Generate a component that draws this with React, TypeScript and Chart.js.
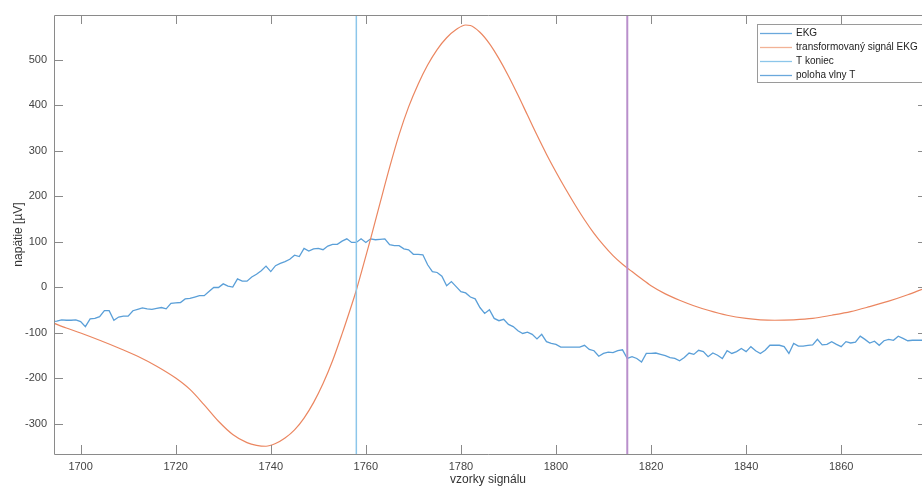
import React, { useEffect, useRef } from "react";
import { Chart, registerables } from "chart.js";

Chart.register(...registerables);

// ---------- data ----------
const EKG_START = 1694;
const EKG_VALUES = [
  -76, -75, -72, -73, -73, -72, -76, -87, -70, -69,
  -65, -52, -52, -73, -66, -64, -64, -52, -49, -46,
  -48, -49, -47, -45, -48, -36, -35, -34, -26, -25,
  -22, -19, -19, -10, -1, -1, 7, 2, 0, 18,
  13, 13, 22, 28, 36, 46, 34, 47, 52, 56,
  61, 70, 67, 85, 79, 84, 85, 82, 90, 94,
  94, 101, 106, 98, 98, 106, 98, 106, 104, 105,
  106, 93, 91, 91, 84, 82, 72, 72, 71, 49,
  34, 32, 24, 3, 12, 1, -10, -13, -22, -26,
  -45, -58, -50, -69, -74, -71, -82, -87, -96, -102,
  -99, -104, -114, -104, -120, -124, -126, -132, -132, -132,
  -132, -132, -128, -137, -140, -152, -146, -143, -144, -140,
  -138, -157, -153, -157, -165, -146, -146, -145, -148, -151,
  -155, -157, -162, -155, -145, -148, -139, -142, -153, -145,
  -150, -157, -140, -146, -142, -135, -142, -131, -140, -146,
  -139, -128, -128, -128, -131, -146, -124, -130, -130, -128,
  -127, -115, -127, -126, -120, -126, -131, -120, -123, -121,
  -108, -115, -123, -119, -128, -118, -115, -117, -108, -113,
  -118, -117, -117, -117,
];

const TRANS_SAMPLES = [
  1694, 1697, 1700, 1704, 1708, 1712, 1716, 1720, 1723, 1726,
  1729, 1732, 1735, 1737, 1739, 1741, 1743, 1745, 1747, 1749,
  1751, 1753, 1755, 1757, 1758, 1759, 1761, 1763, 1765, 1767,
  1769, 1771, 1773, 1775, 1777, 1779, 1781, 1782, 1784, 1786,
  1788, 1790, 1792, 1794, 1796, 1798, 1800, 1802, 1804, 1806,
  1808, 1810, 1812, 1814, 1816, 1818, 1820, 1823, 1826, 1829,
  1832, 1836, 1840, 1843, 1846, 1850, 1854, 1858, 1862, 1866,
  1870, 1874, 1877,
];
const TRANS_VALUES = [
  -78, -90, -101, -117, -134, -152, -174, -200, -225, -259,
  -295, -324, -342, -348, -350, -344, -332, -314, -288, -254,
  -212, -162, -103, -40, -7, 30, 106, 185, 263, 335,
  396, 446, 488, 522, 548, 566, 576, 575, 560, 535,
  502, 464, 422, 378, 334, 292, 253, 216, 181, 148,
  118, 92, 69, 50, 34, 18, 3, -15, -29, -41,
  -51, -62, -69, -72, -73, -72, -69, -62, -54, -43,
  -31, -17, -5,
];

const T_END = 1758; // T koniec
const T_WAVE = 1815; // poloha vlny T

const X_TICKS = [1700, 1720, 1740, 1760, 1780, 1800, 1820, 1840, 1860];
const Y_TICKS = [-300, -200, -100, 0, 100, 200, 300, 400, 500];
const X_MIN = 1694.4;
const X_MAX = 1877;
const Y_MIN = -367;
const Y_MAX = 598;

const LEGEND_LABELS = ["EKG", "transformovaný signál EKG", "T koniec", "poloha vlny T"];
const X_TITLE = "vzorky signálu";
const Y_TITLE = "napätie [µV]";

// ---------- styles ----------
const FONT = '"Liberation Sans", Arial, Helvetica, sans-serif';
const C_EKG = "#5a9fd8";
const C_TRANS = "#eb8660";
const C_TEND = "#8cc6ea";
const C_TWAVE = "#b98fcb";
const LEGEND_COLORS = ["#6aa8dc", "#f2b296", "#8cc6ea", "#6aa8dc"];
const AXIS_COLOR = "#8a8a8a";
const TEXT_COLOR = "#444444";

const axesPlugin = {
  id: "matlabAxes",
  afterDatasetsDraw(chart: any) {
    const { ctx, chartArea, scales } = chart;
    const { left, right, top, bottom } = chartArea;
    const xs = scales.x;
    const ys = scales.y;
    const tl = 9;
    ctx.save();
    ctx.strokeStyle = AXIS_COLOR;
    ctx.lineWidth = 1;
    ctx.beginPath();
    // box
    ctx.moveTo(left + 0.5, top + 0.5);
    ctx.lineTo(left + 0.5, bottom + 0.5);
    ctx.lineTo(right + 10, bottom + 0.5);
    ctx.moveTo(left + 0.5, top + 0.5);
    ctx.lineTo(right + 10, top + 0.5);
    // x ticks (inward, bottom and top)
    X_TICKS.forEach((v) => {
      const px = Math.round(xs.getPixelForValue(v)) + 0.5;
      ctx.moveTo(px, bottom);
      ctx.lineTo(px, bottom - tl);
      ctx.moveTo(px, top);
      ctx.lineTo(px, top + tl);
    });
    // y ticks (inward, left and right)
    Y_TICKS.forEach((v) => {
      const py = Math.round(ys.getPixelForValue(v)) + 0.5;
      ctx.moveTo(left, py);
      ctx.lineTo(left + tl, py);
      ctx.moveTo(right + 5, py);
      ctx.lineTo(right + 5 - tl, py);
    });
    ctx.stroke();
    ctx.restore();
  },
};

const legendPlugin = {
  id: "boxLegend",
  afterDraw(chart: any) {
    const { ctx, chartArea } = chart;
    const x0 = 757;
    const y0 = 24;
    const h = 58;
    const w = chartArea.right + 20 - x0;
    ctx.save();
    ctx.fillStyle = "#ffffff";
    ctx.fillRect(x0 + 0.5, y0 + 0.5, w, h);
    ctx.strokeStyle = "#9a9a9a";
    ctx.lineWidth = 1;
    ctx.strokeRect(x0 + 0.5, y0 + 0.5, w, h);
    ctx.font = `10px ${FONT}`;
    ctx.textBaseline = "middle";
    ctx.textAlign = "left";
    LEGEND_LABELS.forEach((label, i) => {
      const y = y0 + 9 + i * 14;
      ctx.strokeStyle = LEGEND_COLORS[i];
      ctx.lineWidth = 1.3;
      ctx.beginPath();
      ctx.moveTo(x0 + 3, y + 0.5);
      ctx.lineTo(x0 + 35, y + 0.5);
      ctx.stroke();
      ctx.fillStyle = "#222222";
      ctx.fillText(label, x0 + 39, y + 0.5);
    });
    ctx.restore();
  },
};

export default function App() {
  const canvasRef = useRef<HTMLCanvasElement | null>(null);

  useEffect(() => {
    const canvas = canvasRef.current;
    if (!canvas) return;

    const ekgData = EKG_VALUES.map((v, i) => ({ x: EKG_START + i, y: v }));
    const transData = TRANS_SAMPLES.map((s, i) => ({ x: s, y: TRANS_VALUES[i] }));
    const tEndData = [
      { x: T_END, y: Y_MIN },
      { x: T_END, y: Y_MAX },
    ];
    const tWaveData = [
      { x: T_WAVE, y: Y_MIN },
      { x: T_WAVE, y: Y_MAX },
    ];

    const chart = new Chart(canvas, {
      type: "line",
      data: {
        datasets: [
          {
            label: LEGEND_LABELS[0],
            data: ekgData,
            borderColor: C_EKG,
            borderWidth: 1.3,
            pointRadius: 0,
            tension: 0,
            order: 4,
          },
          {
            label: LEGEND_LABELS[1],
            data: transData,
            borderColor: C_TRANS,
            borderWidth: 1.2,
            pointRadius: 0,
            cubicInterpolationMode: "monotone",
            order: 3,
          },
          {
            label: LEGEND_LABELS[2],
            data: tEndData,
            borderColor: C_TEND,
            borderWidth: 1.5,
            pointRadius: 0,
            order: 2,
          },
          {
            label: LEGEND_LABELS[3],
            data: tWaveData,
            borderColor: C_TWAVE,
            borderWidth: 2,
            pointRadius: 0,
            order: 1,
          },
        ],
      } as any,
      options: {
        responsive: false,
        maintainAspectRatio: false,
        devicePixelRatio: 1,
        animation: false,
        parsing: false as any,
        layout: { padding: { top: 15, left: 0, right: 0, bottom: 0 } },
        plugins: {
          legend: { display: false },
          tooltip: { enabled: false },
        },
        elements: { point: { radius: 0 } },
        scales: {
          x: {
            type: "linear",
            min: X_MIN,
            max: X_MAX,
            afterBuildTicks: (s: any) => {
              s.ticks = X_TICKS.map((v) => ({ value: v }));
            },
            afterFit: (s: any) => {
              s.height = 32;
            },
            ticks: {
              font: { size: 11, family: FONT },
              color: TEXT_COLOR,
              padding: 6,
              maxRotation: 0,
              autoSkip: false,
              callback: (v: any) => String(v),
            },
            grid: { display: false, drawTicks: false },
            border: { display: false },
            title: {
              display: true,
              text: X_TITLE,
              font: { size: 12, family: FONT },
              color: "#333333",
              padding: { top: 0, bottom: -1 },
            },
          },
          y: {
            type: "linear",
            min: Y_MIN,
            max: Y_MAX,
            afterBuildTicks: (s: any) => {
              s.ticks = Y_TICKS.map((v) => ({ value: v }));
            },
            afterFit: (s: any) => {
              s.width = 54;
            },
            ticks: {
              font: { size: 11, family: FONT },
              color: TEXT_COLOR,
              padding: 7,
              autoSkip: false,
              callback: (v: any) => String(v),
            },
            grid: { display: false, drawTicks: false },
            border: { display: false },
            title: {
              display: true,
              text: Y_TITLE,
              font: { size: 12, family: FONT },
              color: "#333333",
              padding: { top: 11, bottom: 0 },
            },
          },
        },
      } as any,
      plugins: [axesPlugin, legendPlugin],
    });

    return () => chart.destroy();
  }, []);

  return (
    <div
      style={{
        position: "fixed",
        left: 0,
        top: 0,
        width: 922,
        height: 486,
        background: "#ffffff",
        overflow: "hidden",
      }}
    >
      <canvas ref={canvasRef} width={922} height={486} style={{ display: "block" }} />
    </div>
  );
}
